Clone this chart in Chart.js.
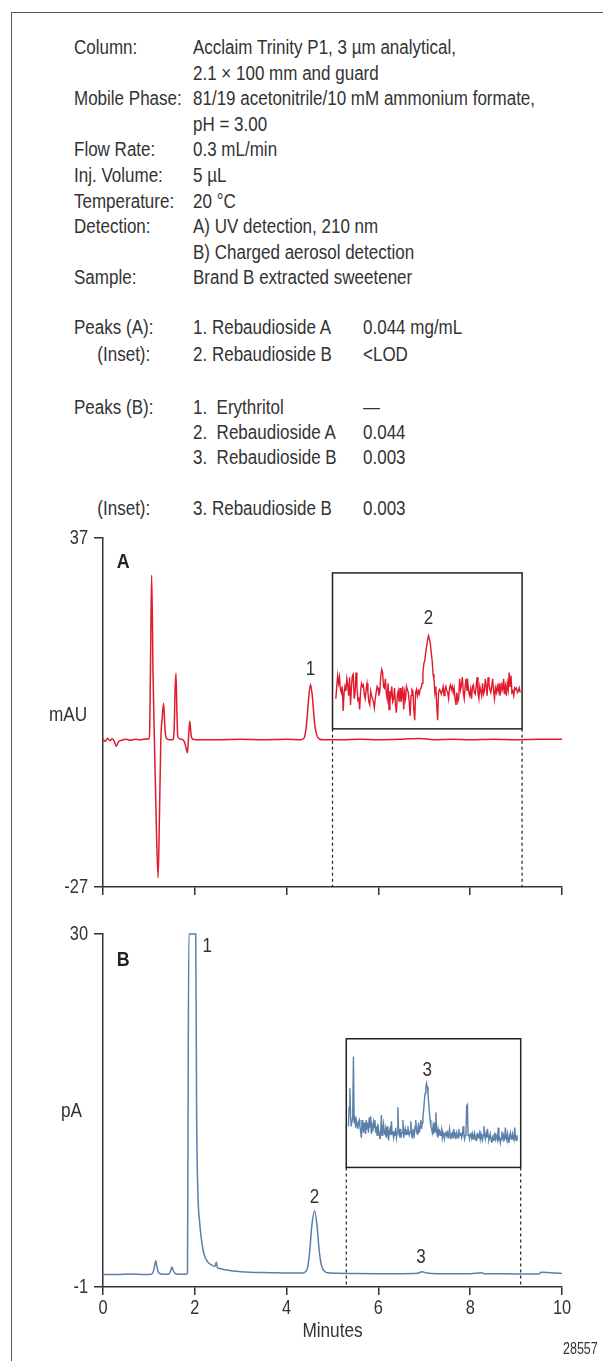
<!DOCTYPE html>
<html>
<head>
<meta charset="utf-8">
<script src="https://cdn.jsdelivr.net/npm/chart.js@4.4.1/dist/chart.umd.min.js"></script>
<style>
  body { margin: 0; background: #fff; }
  #page { position: relative; width: 603px; height: 1361px; overflow: hidden; color: #333;
          font-family: 'Liberation Sans', Arial, sans-serif; }
  .frame { position: absolute; left: 11px; top: 12px; width: 700px; height: 1400px;
           border-left: 1.5px solid #555; border-top: 1.5px solid #555; }
  .t { position: absolute; font-size: 20px; line-height: 20px; white-space: pre; transform-origin: left center; }
  .t.r { transform-origin: right center; }
  canvas { position: absolute; }
</style>
</head>
<body>
<div id="page">
  <div class="frame"></div>
  <canvas id="chartA" width="603" height="380" style="left:0;top:520px;width:603px;height:380px"></canvas>
  <canvas id="chartB" width="603" height="461" style="left:0;top:900px;width:603px;height:461px"></canvas>
  <canvas id="insetA"></canvas>
  <canvas id="insetB"></canvas>
</div>
<script>
const FONT = "'Liberation Sans', Arial, sans-serif";
const SX = 0.85; // the original uses a condensed face

// conditions text
const condLabels = ['Column:', '', 'Mobile Phase:', '', 'Flow Rate:', 'Inj. Volume:', 'Temperature:', 'Detection:', '', 'Sample:'];
const condValues = ['Acclaim Trinity P1, 3 µm analytical,', '2.1 × 100 mm and guard', '81/19 acetonitrile/10 mM ammonium formate,',
  'pH = 3.00', '0.3 mL/min', '5 µL', '20 °C', 'A) UV detection, 210 nm', 'B) Charged aerosol detection', 'Brand B extracted sweetener'];
const peakGroups = ['Peaks (A):', '(Inset):', 'Peaks (B):', '', '', '(Inset):'];
const peakNames = ['1. Rebaudioside A', '2. Rebaudioside B', '1.  Erythritol', '2.  Rebaudioside A', '3.  Rebaudioside B', '3. Rebaudioside B'];
const peakAmounts = ['0.044 mg/mL', '<LOD', '—', '0.044', '0.003', '0.003'];

// A) UV, mAU vs minutes
const timeA = [0, 0.05, 0.1, 0.15, 0.2, 0.25, 0.29, 0.34, 0.4, 0.5, 0.6, 0.7, 0.8, 0.9, 1.0, 1.02, 1.04, 1.06, 1.09, 1.12,
  1.16, 1.2, 1.23, 1.26, 1.29, 1.32, 1.35, 1.38, 1.45, 1.52, 1.55, 1.57, 1.59, 1.61, 1.63, 1.7, 1.77, 1.81, 1.84, 1.86,
  1.89, 1.92, 1.96, 2.1, 2.5, 3.0, 3.5, 4.0, 4.3, 4.38, 4.43, 4.48, 4.52, 4.56, 4.61, 4.66, 4.72, 4.8, 5.2, 5.6,
  6.0, 6.5, 6.9, 7.2, 7.6, 8.0, 8.5, 9.0, 9.5, 10.0];
const mAU = [0.2, -0.3, 0.3, -0.2, 0.2, -0.4, -1.2, -0.3, -0.1, 0.1, -0.1, 0.1, 0, 0.1, 0.2, 3, 18, 30.2, 12, 0,
  -15, -25.3, -14, 0, 4, 6.7, 2, 0.3, 0, 0, 2, 9, 12.2, 5, 0.5, 0.1, -0.3, -1.5, -2.4, 0,
  3.4, 0.8, 0.1, 0, 0, 0.1, 0, 0.1, 0, 0.3, 2.5, 7.5, 10.2, 8, 3, 0.8, 0.1, 0, 0, 0.1,
  0, 0.1, 0.25, 0, 0.1, 0, 0.1, 0, 0.1, 0.1];
const peakTextA = ['1'];
const peakTimeA = [4.52];
const peakLevelA = [12.8];

// B) CAD, pA vs minutes
const timeB = [0, 0.3, 0.6, 0.9, 1.05, 1.1, 1.13, 1.15, 1.17, 1.2, 1.26, 1.35, 1.44, 1.48, 1.5, 1.53, 1.57, 1.65, 1.8, 1.84,
  1.85, 1.87, 2.02, 2.04, 2.07, 2.1, 2.15, 2.2, 2.28, 2.36, 2.44, 2.47, 2.49, 2.52, 2.6, 2.7, 2.85, 3.0, 3.2, 3.5,
  3.8, 4.1, 4.35, 4.45, 4.5, 4.55, 4.61, 4.66, 4.71, 4.76, 4.82, 4.9, 5.1, 5.5, 6.0, 6.5, 6.85, 6.95, 7.05, 7.3,
  8.0, 8.25, 8.3, 8.6, 9.0, 9.5, 9.55, 10.0];
const pA = [0.1, 0.1, 0.15, 0.1, 0.12, 0.4, 1.0, 1.3, 0.9, 0.35, 0.15, 0.12, 0.15, 0.5, 0.75, 0.45, 0.2, 0.12, 0.12, 0.2,
  10, 30, 30, 14, 7, 4.9, 3, 1.9, 1.2, 0.95, 0.8, 1.2, 0.7, 0.65, 0.55, 0.5, 0.4, 0.35, 0.3, 0.27,
  0.25, 0.22, 0.22, 0.6, 2, 4.4, 5.7, 4.5, 2.2, 0.9, 0.4, 0.25, 0.2, 0.18, 0.17, 0.17, 0.2, 0.35, 0.22, 0.17,
  0.17, 0.25, 0.17, 0.16, 0.15, 0.15, 0.3, 0.18];
const peakTextB = ['1', '2', '3'];
const peakTimeB = [2.27, 4.61, 6.93];
const peakLevelB = [28.9, 6.9, 1.55];

// insets: zoomed detector response (relative units, 0-100 of the box)
const insetSignalA = [
  19, 27, 34, 29, 33, 25, 23, 27, 11, 23, 27, 24, 32, 28, 21, 33, 15, 26, 34, 35, 19, 23,
  36, 27, 18, 19, 12, 24, 29, 27, 28, 22, 19, 25, 29, 23, 17, 15, 24, 21, 19, 17, 13, 19, 23, 27,
  26, 21, 24, 34, 38, 36, 27, 26, 32, 23, 19, 29, 12, 24, 21, 27, 17, 19, 26, 15, 10, 21, 24,
  17, 26, 17, 20, 27, 12, 23, 19, 27, 25, 23, 17, 8, 21, 25, 24, 12, 5, 23, 25, 21, 24, 22, 25,
  26, 29, 36, 42, 44, 49, 53, 57, 60, 58, 55, 49, 44, 35, 32, 23, 27, 15, 5,
  23, 25, 24, 22, 24, 27, 21, 25, 27, 24, 23, 19, 26, 28, 25, 27, 23, 26, 19, 15, 23,
  17, 19, 32, 25, 28, 33, 23, 19, 27, 32, 24, 29, 23, 21, 25, 19, 27, 28, 23, 22, 27,
  33, 23, 19, 27, 24, 21, 29, 22, 24, 32, 27, 21, 33, 29, 25, 23, 27, 32, 24, 19, 26,
  23, 27, 24, 29, 21, 24, 28, 25, 32, 22, 27, 21, 29, 25, 36, 27, 34, 23, 24, 21, 26,
  25, 26, 23, 24, 26, 23];
const insetSignalB = [
  32, 47, 62, 40, 32, 37, 41, 87, 35, 40, 31, 37, 34, 30, 35, 37, 32, 28, 23, 37, 32, 27, 35, 30,
  26, 37, 30, 35, 27, 39, 31, 40, 26, 32, 28, 35, 31, 37, 27, 32, 25, 34, 30, 26, 22, 27, 41, 25,
  30, 34, 27, 26, 30, 23, 32, 27, 21, 28, 30, 25, 36, 26, 28, 23, 27, 25, 31, 23, 27, 47, 27, 25,
  30, 23, 26, 27, 37, 23, 27, 30, 25, 28, 26, 32, 27, 25, 28, 36, 26, 23, 30, 27, 25, 32, 37, 28,
  26, 30, 35, 27, 32, 37, 30, 35, 40, 45, 53, 58, 63, 66, 63, 58, 50, 43, 37,
  32, 30, 27, 32, 26, 35, 28, 43, 27, 25, 30, 26, 28, 25, 27, 30, 23, 27, 25, 22, 26, 28,
  25, 27, 23, 26, 30, 25, 22, 26, 27, 23, 30, 25, 26, 22, 27, 25, 23, 30, 26, 25,
  27, 23, 25, 32, 26, 22, 25, 27, 48, 49, 25, 26, 22, 25, 27, 23, 26, 22, 25, 27, 23, 21, 25, 26,
  23, 25, 27, 22, 26, 23, 21, 25, 32, 25, 22, 26, 23, 30, 25, 21, 23, 26, 22, 19, 23, 21, 25, 26,
  22, 25, 23, 21, 31, 22, 23, 19, 22, 28, 23, 25, 21, 22, 31, 23, 21, 26, 22, 19, 25, 27, 22, 23,
  26, 22, 21, 31, 23, 21, 25, 22];
const insetPeakA = { text: '2', index: 101, level: 71 };
const insetPeakB = { text: '3', index: 110, level: 76 };

// inset windows: [from min, to min, top, bottom] in main chart units
const windowA = [5.0, 9.13, 30.6, 2.0];
const windowB = [5.3, 9.1, 20.8, 9.5];

// ---- text block
const page = document.getElementById('page');
function addText(txt, left, cy, opts = {}) {
  const d = document.createElement('div');
  d.className = 't' + (opts.right != null ? ' r' : '');
  d.textContent = txt;
  d.style.top = (cy - 10) + 'px';
  if (opts.right != null) { d.style.right = (603 - opts.right) + 'px'; } else { d.style.left = left + 'px'; }
  if (opts.size) { d.style.fontSize = opts.size + 'px'; }
  d.style.transform = 'scaleX(' + (opts.sx || SX) + ')';
  page.appendChild(d);
  return d;
}
condLabels.forEach((lab, i) => {
  const cy = 47 + i * 25.6;
  if (lab) addText(lab, 74, cy);
  addText(condValues[i], 193, cy);
});
const peakRowY = [327, 354, 407, 432, 457, 508];
peakGroups.forEach((g, i) => {
  if (g === '(Inset):') addText(g, 0, peakRowY[i], { right: 150 });
  else if (g) addText(g, 74, peakRowY[i]);
  addText(peakNames[i], 193, peakRowY[i]);
  addText(peakAmounts[i], 363, peakRowY[i]);
});
addText('mAU', 49, 714, { sx: 0.86 });
addText('pA', 61, 1110, { sx: 0.86 });
addText('28557', 563, 1349, { size: 16, sx: 0.78 });

// ---- charts
const ink = '#333';

function condensed(ctx, txt, x, y, size, align, bold, sx) {
  ctx.save();
  ctx.font = (bold ? 'bold ' : '') + size + 'px ' + FONT;
  ctx.textAlign = align || 'center';
  ctx.textBaseline = 'middle';
  ctx.translate(x, y);
  ctx.scale(sx || SX, 1);
  ctx.fillText(txt, 0, 0);
  ctx.restore();
}

function yAxis(min, max) {
  return {
    type: 'linear', min, max,
    afterBuildTicks: s => { s.ticks = [{ value: min }, { value: max }]; },
    afterFit: s => { s.width = 103; },
    ticks: { display: false },
    grid: { drawOnChartArea: false, tickLength: 9, color: ink, lineWidth: 1.5 },
    border: { color: ink, width: 1.5 }
  };
}
function xAxis() {
  return {
    type: 'linear', min: 0, max: 10,
    afterFit: s => { s.height = 13; },
    ticks: { stepSize: 2, display: false },
    grid: { drawOnChartArea: false, tickLength: 8, color: ink, lineWidth: 1.5 },
    border: { color: ink, width: 1.5 }
  };
}

const decor = {
  id: 'decor',
  afterDatasetsDraw(chart, args, o) {
    const { ctx, chartArea } = chart;
    const x = chart.scales.x, y = chart.scales.y;
    ctx.save();
    // inset frame and its dashed leaders
    const l = x.getPixelForValue(o.window[0]), r = x.getPixelForValue(o.window[1]);
    const t = y.getPixelForValue(o.window[2]), b = y.getPixelForValue(o.window[3]);
    ctx.strokeStyle = '#222';
    ctx.lineWidth = 1.5;
    ctx.strokeRect(l, t, r - l, b - t);
    ctx.setLineDash([3, 3]);
    ctx.lineWidth = 1.2;
    ctx.beginPath();
    ctx.moveTo(l, b); ctx.lineTo(l, chartArea.bottom);
    ctx.moveTo(r, b); ctx.lineTo(r, chartArea.bottom);
    ctx.stroke();
    ctx.restore();
    ctx.fillStyle = ink;
    // y tick labels
    y.ticks.forEach(tk => condensed(ctx, String(tk.value), y.right - 15, y.getPixelForValue(tk.value), 20.5, 'right', false, 0.8));
    // x tick labels + title
    if (o.xLabels) {
      x.ticks.forEach(tk => condensed(ctx, String(tk.value), x.getPixelForValue(tk.value), chartArea.bottom + 21, 20.5, 'center', false, 0.8));
      condensed(ctx, 'Minutes', (chartArea.left + chartArea.right) / 2, chartArea.bottom + 44.5, 20, 'center', false, 0.86);
    }
    o.texts.forEach((txt, i) => condensed(ctx, txt, x.getPixelForValue(o.times[i]), y.getPixelForValue(o.levels[i]), 20));
    ctx.fillStyle = '#222';
    condensed(ctx, o.panel[0], x.getPixelForValue(o.panel[1]), y.getPixelForValue(o.panel[2]), 21, 'left', true, 0.85);
  }
};

function mainChart(id, times, values, color, yMin, yMax, padding, o) {
  return new Chart(document.getElementById(id), {
    type: 'line',
    data: { datasets: [{
      data: times.map((t, i) => ({ x: t, y: values[i] })),
      borderColor: color, borderWidth: 1.5, pointRadius: 0,
      cubicInterpolationMode: 'monotone', clip: 4
    }] },
    options: {
      responsive: false, animation: false, events: [],
      layout: { padding },
      plugins: { legend: { display: false }, tooltip: { enabled: false }, decor: o },
      scales: { x: xAxis(), y: yAxis(yMin, yMax) }
    },
    plugins: [decor]
  });
}

const chartA = mainChart('chartA', timeA, mAU, '#e11b2e', -27, 37,
  { left: 0, right: 41, top: 18, bottom: 0 },
  { window: windowA, xLabels: false, texts: peakTextA, times: peakTimeA, levels: peakLevelA, panel: ['A', 0.3, 32.6] });
const chartB = mainChart('chartB', timeB, pA, '#5a7fa8', -1, 30,
  { left: 0, right: 41, top: 34, bottom: 61 },
  { window: windowB, xLabels: true, texts: peakTextB, times: peakTimeB, levels: peakLevelB, panel: ['B', 0.3, 27.7] });

const insetLabel = {
  id: 'insetLabel',
  afterDatasetsDraw(chart, args, o) {
    chart.ctx.fillStyle = ink;
    condensed(chart.ctx, o.text, chart.scales.x.getPixelForValue(o.index), chart.scales.y.getPixelForValue(o.level), 20);
  }
};

function insetChart(id, main, win, top, signal, color, peak) {
  const x = main.scales.x, y = main.scales.y;
  const l = x.getPixelForValue(win[0]), r = x.getPixelForValue(win[1]);
  const t = y.getPixelForValue(win[2]), b = y.getPixelForValue(win[3]);
  const cv = document.getElementById(id);
  const w = Math.round(r - l - 2), h = Math.round(b - t - 2);
  cv.width = w; cv.height = h;
  cv.style.left = (l + 1) + 'px';
  cv.style.top = (top + t + 1) + 'px';
  cv.style.width = w + 'px'; cv.style.height = h + 'px';
  return new Chart(cv, {
    type: 'line',
    data: { datasets: [{
      data: signal.map((v, i) => ({ x: i, y: v })),
      borderColor: color, borderWidth: 1.4, pointRadius: 0, tension: 0
    }] },
    options: {
      responsive: false, animation: false, events: [],
      layout: { padding: 0 },
      plugins: { legend: { display: false }, tooltip: { enabled: false }, insetLabel: peak },
      scales: {
        x: { type: 'linear', display: false, min: -2, max: signal.length + 1 },
        y: { type: 'linear', display: false, min: 0, max: 100 }
      }
    },
    plugins: [insetLabel]
  });
}

insetChart('insetA', chartA, windowA, 520, insetSignalA, '#e11b2e', insetPeakA);
insetChart('insetB', chartB, windowB, 900, insetSignalB, '#5a7fa8', insetPeakB);
</script>
</body>
</html>
